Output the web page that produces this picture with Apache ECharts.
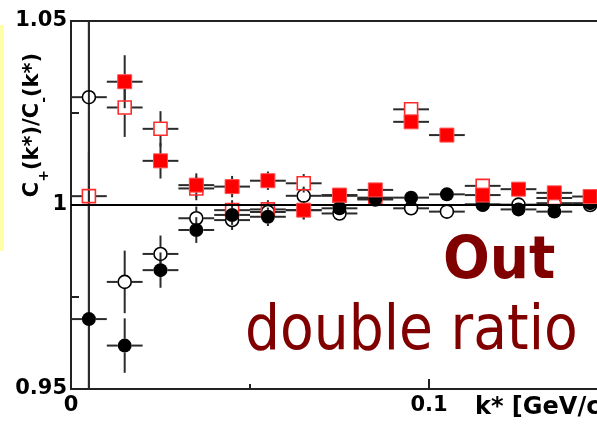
<!DOCTYPE html>
<html>
<head>
<meta charset="utf-8">
<script src="https://cdn.jsdelivr.net/npm/echarts@6/dist/echarts.min.js"></script>
<style>
html,body{margin:0;padding:0;background:#fff;}
#chart{width:597px;height:426px;}
</style>
</head>
<body>
<div id="chart"></div>
<script>
// ---- data ----
const kStar = [0.005, 0.015, 0.025, 0.035, 0.045, 0.055, 0.065, 0.075, 0.085, 0.095, 0.105, 0.115, 0.125, 0.135, 0.145];
const halfBin = 0.005;

const openCircle   = [1.0293, 0.9791, 0.9867, 0.9964, 0.9959, 0.9981, 1.0025, 0.9977, 1.0015, 0.9991, 0.9982, 1.0002, 1.0001, 1.0005, 1.0000];
const errOpenCircle= [0.2,    0.0085, 0.0050, 0.0032, 0.0027, 0.0025, 0.0025, 0.0018, 0.0016, 0.0016, 0.0016, 0.0016, 0.0016, 0.0016, 0.0016];

const filledCircle    = [0.9690, 0.9618, 0.9823, 0.9932, 0.9973, 0.9968, 0.9986, 0.9991, 1.0018, 1.0020, 1.0029, 1.0000, 0.9988, 0.9982, 1.0005];
const errFilledCircle = [0.2,    0.0074, 0.0048, 0.0035, 0.0027, 0.0025, 0.0025, 0.0018, 0.0016, 0.0016, 0.0016, 0.0016, 0.0016, 0.0016, 0.0016];

const openSquare    = [1.0024, 1.0265, 1.0207, 1.0045, 0.9986, 0.9988, 1.0059, 1.0025, 1.0020, 1.0260, null, 1.0052, null, 1.0019, null];
const errOpenSquare = [0.012,  0.0080, 0.0048, 0.0032, 0.0027, 0.0025, 0.0025, 0.0018, 0.0016, 0.0016, null, 0.0016, null, 0.0016, null];

const filledSquare    = [null, 1.0335, 1.0120, 1.0054, 1.0050, 1.0066, 0.9986, 1.0027, 1.0041, 1.0226, 1.0190, 1.0027, 1.0043, 1.0033, 1.0023];
const errFilledSquare = [null, 0.0072, 0.0048, 0.0032, 0.0029, 0.0025, 0.0025, 0.0018, 0.0016, 0.0016, 0.0016, 0.0016, 0.0016, 0.0016, 0.0016];

const yTickLabels = ['0.95', '1', '1.05'];
const xTickLabels = ['0', '0.1'];
const yAxisTitle = ['C', '+', '(k*)/C', '-', '(k*)'];
const xAxisTitle = 'k* [GeV/c]';
const annotTitle = 'Out';
const annotSub = 'double ratio';

const YMIN = 0.95, YMAX = 1.05, XMIN = 0, XMAX = 0.15;

function pts(vals, errs) {
  const out = [];
  for (let i = 0; i < kStar.length; i++) {
    if (vals[i] !== null && vals[i] !== undefined) out.push([kStar[i], vals[i], errs[i]]);
  }
  return out;
}

function errRender(params, api) {
  const x = api.value(0), y = api.value(1), e = api.value(2);
  const c = api.coord([x, y]);
  const xl = api.coord([Math.max(x - halfBin, XMIN), y])[0];
  const xr = api.coord([Math.min(x + halfBin, XMAX), y])[0];
  const yt = api.coord([x, Math.min(y + e, YMAX)])[1];
  const yb = api.coord([x, Math.max(y - e, YMIN)])[1];
  const r = 7;
  const children = [];
  const seg = (x1, y1, x2, y2) => children.push({
    type: 'line', shape: { x1, y1, x2, y2 },
    style: { stroke: '#2b2b2b', lineWidth: 2 }
  });
  if (c[0] - r > xl) seg(xl, c[1], c[0] - r, c[1]);
  if (xr > c[0] + r) seg(c[0] + r, c[1], xr, c[1]);
  if (yt < c[1] - r) seg(c[0], yt, c[0], c[1] - r);
  if (yb > c[1] + r) seg(c[0], c[1] + r, c[0], yb);
  return { type: 'group', children };
}

function errSeries(data, z) {
  return { type: 'custom', data, renderItem: errRender, z, silent: true, encode: { x: 0, y: 1 } };
}

function isTick(v, t) { return Math.abs(v - parseFloat(t)) < 1e-6; }

const chart = echarts.init(document.getElementById('chart'), null, { renderer: 'canvas' });

const tickFont = { fontFamily: 'DejaVu Sans', fontWeight: 'bold', fontSize: 21, color: '#000' };

chart.setOption({
  animation: false,
  backgroundColor: '#fff',
  grid: {
    left: 71, top: 21, bottom: 37, right: -11,
    show: true, borderColor: '#222', borderWidth: 2, backgroundColor: 'transparent',
    containLabel: false, outerBoundsMode: 'none'
  },
  xAxis: {
    type: 'value', min: XMIN, max: XMAX, interval: 0.1,
    axisLine: { show: true, onZero: false, lineStyle: { color: '#222', width: 2 } },
    axisTick: { show: true, inside: true, length: 10, lineStyle: { color: '#222', width: 2 } },
    minorTick: { show: true, splitNumber: 2, length: 5, lineStyle: { color: '#222', width: 2 } },
    splitLine: { show: false },
    axisLabel: Object.assign({
      margin: 6,
      formatter: v => { for (const t of xTickLabels) if (isTick(v, t)) return t; return ''; }
    }, tickFont)
  },
  yAxis: {
    type: 'value', min: YMIN, max: YMAX, interval: 0.025,
    axisLine: { show: true, onZero: false, lineStyle: { color: '#222', width: 2 } },
    axisTick: { show: true, inside: true, length: 8, lineStyle: { color: '#222', width: 2 } },
    splitLine: { show: false },
    axisLabel: Object.assign({
      margin: 4,
      formatter: v => { for (const t of yTickLabels) if (isTick(v, t)) return t; return ''; }
    }, tickFont)
  },
  series: [
    Object.assign(errSeries(pts(openCircle, errOpenCircle), 2), {
      markLine: {
        silent: true, symbol: 'none', label: { show: false },
        lineStyle: { color: '#000', width: 2, type: 'solid' },
        data: [{ yAxis: 1 }]
      }
    }),
    errSeries(pts(filledCircle, errFilledCircle), 2),
    errSeries(pts(openSquare, errOpenSquare), 2),
    errSeries(pts(filledSquare, errFilledSquare), 2),
    {
      type: 'scatter', z: 3, silent: true, symbol: 'circle', symbolSize: 13,
      data: pts(openCircle, errOpenCircle).map(p => [p[0], p[1]]),
      itemStyle: { color: 'rgba(0,0,0,0)', borderColor: '#000', borderWidth: 1.6, opacity: 1 }
    },
    {
      type: 'scatter', z: 4, silent: true, symbol: 'rect', symbolSize: 13,
      data: pts(openSquare, errOpenSquare).map(p => [p[0], p[1]]),
      itemStyle: { color: 'rgba(0,0,0,0)', borderColor: '#ff2a2a', borderWidth: 1.6, opacity: 1 }
    },
    {
      type: 'scatter', z: 5, silent: true, symbol: 'circle', symbolSize: 14,
      data: pts(filledCircle, errFilledCircle).map(p => [p[0], p[1]]),
      itemStyle: { color: '#000', opacity: 1 }
    },
    {
      type: 'scatter', z: 6, silent: true, symbol: 'rect', symbolSize: 14,
      data: pts(filledSquare, errFilledSquare).map(p => [p[0], p[1]]),
      itemStyle: { color: '#ff0000', borderColor: '#ff5050', borderWidth: 1, opacity: 1 }
    }
  ],
  graphic: [
    { type: 'rect', left: 0, top: 25, shape: { width: 4, height: 226 }, style: { fill: '#ffffa6' }, silent: true },
    {
      type: 'text', x: 44, y: 125, rotation: Math.PI / 2, silent: true,
      style: {
        text: '{m|' + yAxisTitle[0] + '}{s|' + yAxisTitle[1] + '}{m|' + yAxisTitle[2] + '}{s|' + yAxisTitle[3] + '}{m|' + yAxisTitle[4] + '}',
        align: 'center', verticalAlign: 'middle',
        rich: {
          m: { fontFamily: 'DejaVu Sans', fontWeight: 'bold', fontSize: 21, fill: '#000', lineHeight: 26, verticalAlign: 'top' },
          s: { fontFamily: 'DejaVu Sans', fontWeight: 'bold', fontSize: 14, fill: '#000', lineHeight: 44, verticalAlign: 'middle' }
        }
      }
    },
    {
      type: 'text', x: 475, y: 408, silent: true,
      style: { text: xAxisTitle, fontFamily: 'DejaVu Sans', fontWeight: 'bold', fontSize: 24, fill: '#000', align: 'left', verticalAlign: 'middle' }
    },
    {
      type: 'text', x: 443, y: 263, scaleX: 0.95, silent: true,
      style: { text: annotTitle, fontFamily: 'DejaVu Sans', fontWeight: 'bold', fontSize: 58, fill: '#800000', align: 'left', verticalAlign: 'middle' }
    },
    {
      type: 'text', x: 245, y: 333, scaleX: 0.89, silent: true,
      style: { text: annotSub, fontFamily: 'DejaVu Sans', fontWeight: 'normal', fontSize: 62, fill: '#800000', align: 'left', verticalAlign: 'middle' }
    }
  ]
});
</script>
</body>
</html>
